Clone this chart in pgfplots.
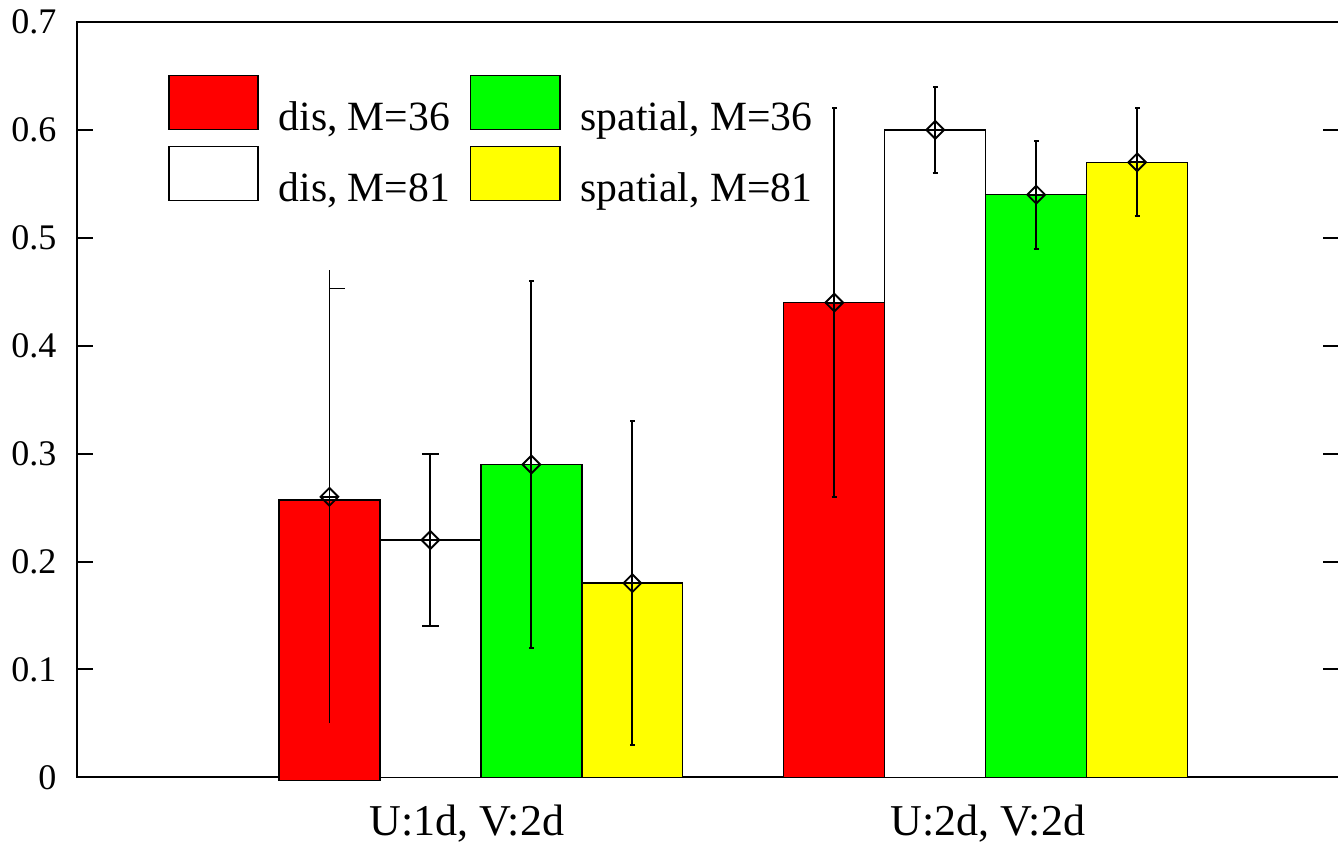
\documentclass[border=0pt]{standalone}
\usepackage{fontspec}
\setmainfont{Liberation Serif}
\usepackage{pgfplots}
\pgfplotsset{compat=1.18}
\pgfdeclareplotmark{lcap}{\pgfpathmoveto{\pgfqpoint{0pt}{0pt}}\pgfpathlineto{\pgfqpoint{0pt}{\pgfplotmarksize}}\pgfusepathqstroke}
\pgfplotsset{barleg/.style={legend image code/.code={\draw[##1] (0pt,-4.2pt) rectangle (33.4pt,16.05pt);}}}
\begin{document}
\begin{tikzpicture}
\begin{axis}[
  at={(0,0)}, anchor=south west,
  scale only axis, width=473pt, height=283.125pt,
  xmin=0.2, xmax=2.7, ymin=0, ymax=0.7,
  clip=false,
  axis line style={line width=0.75pt},
  xtick={0.972,2.004}, xticklabels={{U:1d, V:2d},{U:2d, V:2d}},
  x tick style={draw=none},
  ytick={0,0.1,0.2,0.3,0.4,0.5,0.6,0.7},
  y tick style={line width=0.75pt, black},
  tick align=inside, major tick length=6pt,
  /pgf/number format/assume math mode=true,
  yticklabel style={font=\fontsize{13.5}{16}\selectfont, inner sep=0pt, xshift=-7.5pt},
  xticklabel style={font=\fontsize{16.5}{20}\selectfont, inner sep=0pt, yshift=-10pt},
  transpose legend, legend columns=2, legend cell align=left,
  legend style={at={(0.0722,0.9298)}, anchor=north west, draw=none, fill=none,
    inner sep=0pt, outer sep=0pt, row sep=4.1pt,
    nodes={inner sep=0pt, font=\fontsize{15.6}{18}\selectfont},
    /tikz/every odd column/.append style={column sep=7.5pt},
    /tikz/every even column/.append style={column sep=7.5pt}},
]
% bars
\addplot[ybar, bar width=0.2, bar shift=0pt, fill=red, draw=black, line width=0.5pt, forget plot] coordinates {(1.7,0.44)};
\addplot[fill=red, draw=black, line width=0.5pt, forget plot] coordinates {(0.6,-0.003) (0.8,-0.003) (0.8,0.257) (0.6,0.257) (0.6,-0.003)};
\addplot[ybar, bar width=0.2, bar shift=0pt, fill=white, draw=black, line width=0.5pt, forget plot] coordinates {(0.9,0.22) (1.9,0.60)};
\addplot[ybar, bar width=0.2, bar shift=0pt, fill={rgb,255:red,0;green,255;blue,0}, draw=black, line width=0.5pt, forget plot] coordinates {(1.1,0.29) (2.1,0.54)};
\addplot[ybar, bar width=0.2, bar shift=0pt, fill={rgb,255:red,255;green,255;blue,0}, draw=black, line width=0.5pt, forget plot] coordinates {(1.3,0.18) (2.3,0.57)};
% error bars, small caps
\addplot[black, line width=0.7pt, only marks, mark=square, mark options={rotate=45, mark size=2.35pt, solid}, forget plot,
  error bars/.cd, y dir=both, y explicit, error mark=lcap, error mark options={mark size=1.9pt, line width=0.7pt}, error bar style={line width=0.7pt}]
  coordinates {(1.1,0.29) +- (0,0.17) (1.3,0.18) +- (0,0.15) (1.7,0.44) +- (0,0.18) (1.9,0.60) +- (0,0.04) (2.1,0.54) +- (0,0.05) (2.3,0.57) +- (0,0.05)};
% white group 1, full caps
\addplot[black, line width=0.7pt, only marks, mark=square, mark options={rotate=45, mark size=2.35pt, solid}, forget plot,
  error bars/.cd, y dir=both, y explicit, error mark=|, error mark options={mark size=3.2pt, line width=0.7pt}, error bar style={line width=0.7pt}]
  coordinates {(0.9,0.22) +- (0,0.08)};
% red group 1, no caps
\addplot[black, line width=0.7pt, only marks, mark=square, mark options={rotate=45, mark size=2.35pt, solid}, forget plot,
  error bars/.cd, y dir=both, y explicit, error mark=none, error bar style={line width=0.7pt}]
  coordinates {(0.7,0.26) +- (0,0.21)};
\addplot[black, line width=0.7pt, forget plot] coordinates {(0.7,0.453) (0.73,0.453)};
% plus marks
\addplot[black, only marks, mark=+, mark size=3.3pt, mark options={line width=0.7pt}, forget plot]
  coordinates {(0.7,0.26) (0.9,0.22) (1.1,0.29) (1.3,0.18) (1.7,0.44) (1.9,0.60) (2.1,0.54) (2.3,0.57)};
% legend
\addlegendimage{barleg, fill=red, draw=black, line width=0.5pt}
\addlegendentry{dis, M=36}
\addlegendimage{barleg, fill=white, draw=black, line width=0.5pt}
\addlegendentry{dis, M=81}
\addlegendimage{barleg, fill={rgb,255:red,0;green,255;blue,0}, draw=black, line width=0.5pt}
\addlegendentry{spatial, M=36}
\addlegendimage{barleg, fill={rgb,255:red,255;green,255;blue,0}, draw=black, line width=0.5pt}
\addlegendentry{spatial, M=81}
\end{axis}
\pgfresetboundingbox
\path[use as bounding box] ([xshift=-28.875pt,yshift=-26.625pt]current axis.south west) rectangle ([xshift=-0.4pt,yshift=8.25pt]current axis.north east);
\end{tikzpicture}
\end{document}
